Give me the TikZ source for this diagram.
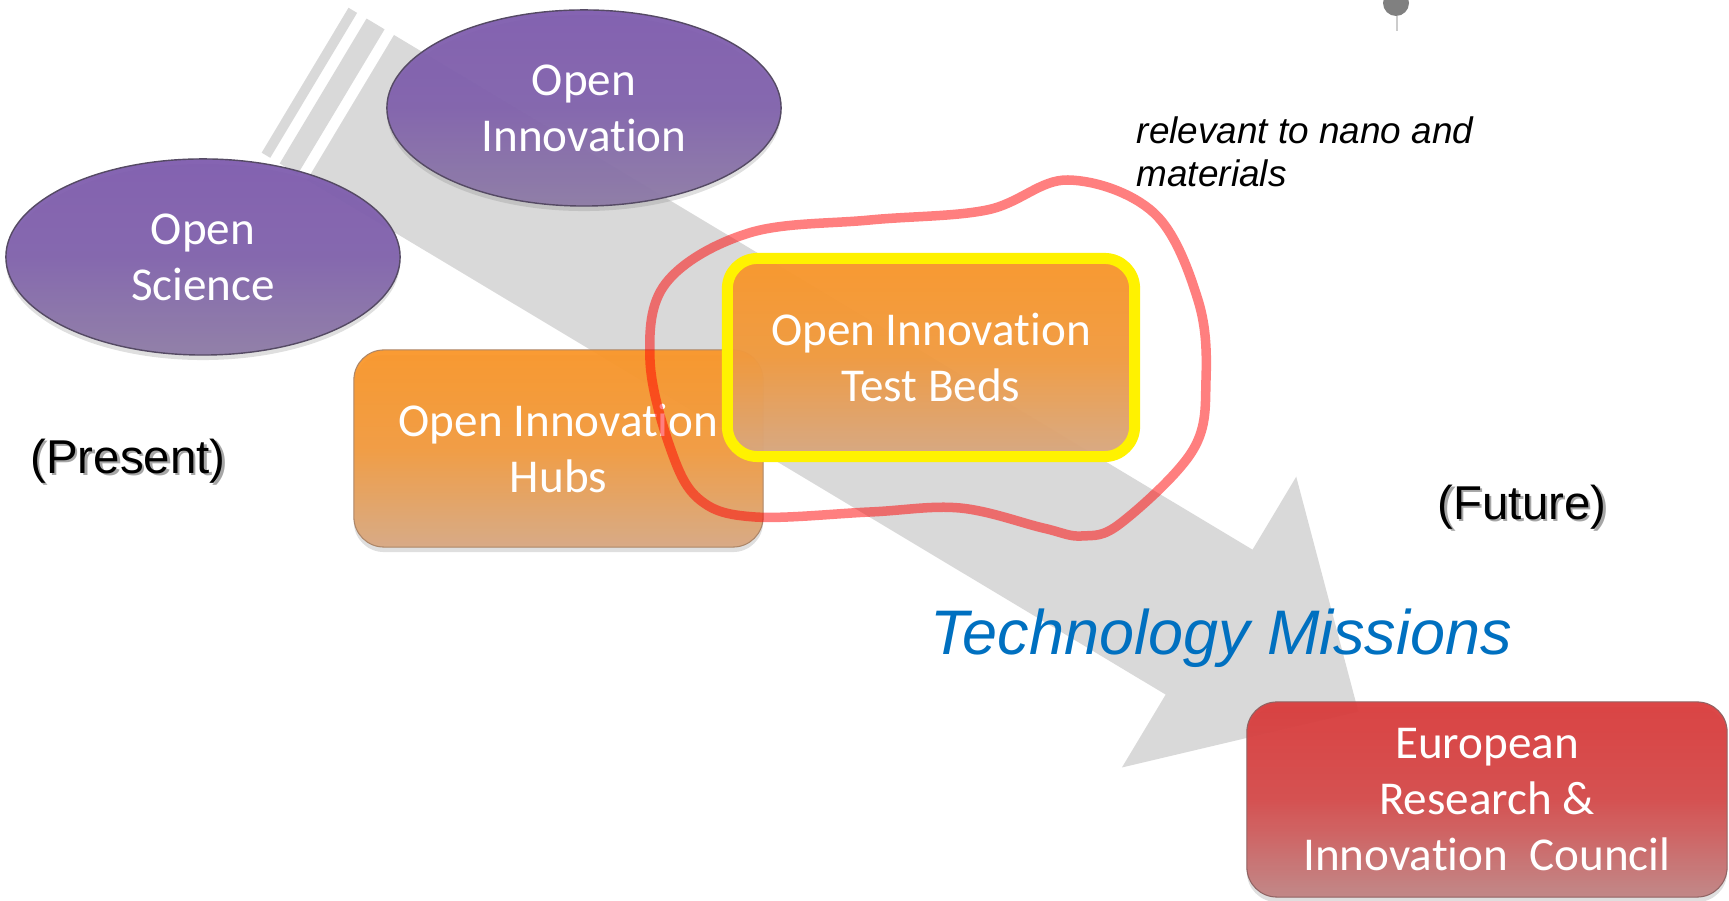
\documentclass[tikz,border=0pt]{standalone}
\usepackage{fontspec}
\setmainfont{Liberation Sans}
\newfontfamily\calibri[Ligatures=NoCommon]{Carlito}
\usetikzlibrary{shapes.geometric,shadows}

\definecolor{purpletop}{RGB}{126,92,174}
\definecolor{purplebot}{RGB}{142,124,166}
\definecolor{orangetop}{RGB}{250,150,40}
\definecolor{orangebot}{RGB}{216,168,130}
\definecolor{redtop}{RGB}{218,60,60}
\definecolor{redbot}{RGB}{192,132,132}
\definecolor{arrowgray}{RGB}{217,217,217}
\definecolor{missionblue}{RGB}{0,112,192}

\newcommand\castshadow[1]{\rlap{\kern0.7pt\raisebox{-0.7pt}{\textcolor{black!35}{#1}}}#1}

\begin{document}
\begin{tikzpicture}[x=0.01cm,y=-0.01cm,line join=round,
  whitetext/.style={font=\calibri\fontsize{13.4}{15.9}\selectfont,text=white,align=center,inner sep=0pt},
  softshadow/.style={drop shadow={shadow xshift=0cm,shadow yshift=-0.05cm,opacity=0.25}},
  bubble/.style={whitetext,ellipse,minimum width=3.94cm,minimum height=1.96cm,
    top color=purpletop,bottom color=purplebot,middle color=purpletop!80!purplebot,
    draw=purplebot!60!black,line width=0.4pt,
    fill opacity=0.95,text opacity=1,softshadow},
  tile/.style={whitetext,rectangle,rounded corners=0.3cm,
    top color=orangetop,bottom color=orangebot,middle color=orangetop!75!orangebot,
    draw=orangebot!80!black,line width=0.3pt,
    fill opacity=0.95,text opacity=1,softshadow},
  timetext/.style={font=\fontsize{13.5}{16}\selectfont,inner sep=0pt}]

\useasboundingbox (0,0) rectangle (1729,901);

\begin{scope}[shift={(394,35)},rotate=-30.94]
\fill[arrowgray] (0,0) -- (1001,0) -- (1001,-85) -- (1175,84.5) -- (1001,254) -- (1001,169) -- (0,169) -- cycle;
\fill[arrowgray] (-32,0) rectangle (-11,169) (-53,0) rectangle (-43,169);
\end{scope}

\fill[gray] (1396,3) circle (13);
\draw[gray!40,line width=0.3pt] (1397,16) -- (1397,31);

\node[bubble] (openinno) at (584,108) {Open\\Innovation};
\node[bubble] (openscience) at (203,257) {Open\\Science};

\node[tile,minimum width=4.09cm,minimum height=1.97cm] (hubs) at (558.5,448.5) {Open Innovation\\Hubs};
\node[tile,draw=yellow,line width=0.11cm,minimum width=4.07cm,minimum height=1.98cm] (testbeds) at (931,357.5) {Open Innovation\\Test Beds};

\draw[red,draw opacity=0.5,line width=0.095cm] plot[smooth cycle,tension=0.6] coordinates {
  (870,220) (987,210) (1068,180) (1154,213) (1198,300) (1206,380) (1193,450)
  (1121,523) (1082,536) (1043,528) (960,508) (870,512) (755,517) (700,500)
  (671,450) (650,360) (666,283) (749,233)};

\node[tile,top color=redtop,bottom color=redbot,middle color=redtop!80!redbot,draw=redbot!75!black,minimum width=4.8cm,minimum height=1.95cm] (council) at (1487,799.5) {European\\Research \&\\Innovation~~Council};

\node[timetext] (present) at (128,462) {\castshadow{(Present)}};
\node[timetext] (future) at (1522,508) {\castshadow{(Future)}};

\node[font=\itshape\fontsize{10.5}{12.3}\selectfont,align=left,anchor=north west,inner sep=0pt] (nano) at (1136,116) {relevant to nano and\\materials};

\node[font=\itshape\fontsize{17.9}{20}\selectfont,text=missionblue,anchor=base,inner sep=0pt] (missions) at (1221,655) {Technology Missions};

\end{tikzpicture}
\end{document}
